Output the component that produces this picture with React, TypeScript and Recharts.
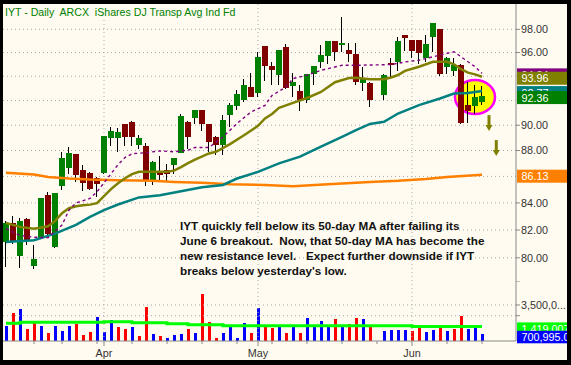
import React from 'react';
import { ComposedChart, Bar, Line, XAxis, YAxis, ReferenceLine, ReferenceDot } from 'recharts';

// IYT daily bars, index 0..68 (index 53 is the Memorial Day blank)
const opens = [81.14, 82.48, 80.14, 82.79, 79.43, 81.43, 84.58, 80.78, 85.26, 86.61, 87.72, 86.48, 86.27, 85.84, 86.27, 88.99, 88.99, 90.09, 90.25, 88.42, 88.34, 85.71, 86.35, 86.48, 86.86, 87.82, 90.27, 90.57, 91.21, 90.09, 89.07, 88.42, 90.81, 91.56, 92.02, 93.12, 92.58, 96.56, 94.86, 94.1, 96.5, 93.21, 92.77, 92.02, 94.16, 95.22, 95.73, 96.98, 96.64, 96.21, 95.87, 93.41, 93.45, null, 92.44, 95.08, 95.22, 97.51, 97.07, 97.07, 95.52, 97.36, 98.03, 94.8, 94.44, 94.94, 91.67, 91.56, 91.84];
const highs = [82.65, 83.01, 82.85, 82.85, 80.9, 84.35, 84.83, 84.75, 87.9, 88.3, 87.75, 86.86, 86.3, 85.96, 89.15, 89.82, 89.74, 90.1, 90.3, 89.2, 88.6, 87.15, 87.56, 86.92, 87.45, 90.89, 90.3, 91.25, 91.25, 90.1, 89.13, 90.86, 91.8, 92.85, 93.74, 94.29, 96.07, 96.6, 95.22, 96.25, 96.71, 94.29, 93.27, 94.2, 94.9, 96.64, 97.0, 97.0, 99.11, 96.79, 96.79, 94.8, 93.5, null, 94.15, 95.56, 97.36, 97.55, 97.1, 97.1, 97.51, 98.55, 98.05, 95.6, 95.56, 95.0, 93.49, 93.27, 93.21];
const lows = [79.36, 81.02, 79.25, 80.9, 79.18, 81.35, 81.5, 80.7, 84.95, 86.22, 85.58, 84.9, 84.95, 84.43, 86.2, 88.34, 87.87, 88.34, 88.34, 88.09, 85.26, 85.33, 85.71, 85.58, 86.17, 87.8, 88.09, 90.09, 89.55, 87.9, 87.64, 87.64, 89.87, 91.21, 91.89, 92.25, 92.3, 93.63, 93.27, 93.27, 92.95, 92.3, 91.15, 91.76, 93.27, 94.66, 95.0, 95.28, 96.02, 95.22, 93.27, 92.77, 91.48, null, 92.02, 93.87, 94.44, 96.13, 95.52, 95.0, 95.22, 96.07, 94.04, 94.16, 94.04, 90.06, 90.14, 90.94, 91.6];
const closes = [82.48, 81.21, 82.65, 81.21, 79.9, 84.33, 81.7, 84.73, 87.43, 87.82, 86.09, 85.51, 85.03, 85.45, 89.13, 89.53, 89.47, 89.07, 89.1, 89.02, 85.71, 87.12, 86.09, 86.22, 87.43, 90.73, 89.07, 91.21, 90.09, 88.68, 88.42, 90.41, 91.62, 92.52, 93.27, 92.3, 95.64, 94.86, 94.52, 96.21, 92.99, 93.54, 92.02, 94.16, 94.86, 95.79, 96.98, 96.07, 96.84, 95.87, 93.49, 93.87, 92.02, null, 94.1, 94.94, 96.98, 97.27, 96.13, 95.93, 96.71, 98.52, 94.16, 95.56, 94.94, 90.14, 91.13, 92.3, 92.36];
const volumes = [1460000, 2750000, 3110000, 1140000, 1780000, 1460000, 810000, 1460000, 970000, 1460000, 1650000, 580000, 870000, 2330000, 870000, 2040000, 1360000, 1170000, 1360000, 490000, 3300000, 680000, 490000, 290000, 580000, 680000, 1170000, 780000, 4570000, 1850000, 290000, 780000, 1550000, 290000, 1750000, 780000, 3210000, 1360000, 1260000, 1550000, 810000, 1550000, 810000, 2240000, 1360000, 1940000, 1460000, 2140000, 1550000, 1650000, 2240000, 2140000, 1360000, null, 970000, 1070000, 1070000, 1070000, 970000, 1460000, 870000, 1070000, 1460000, 970000, 1170000, 2430000, 1170000, 1260000, 700995];

// moving averages as [bar index, value]
const ma10Pts = [[0, 82.1], [2, 81.6], [4, 81.48], [6, 81.44], [8, 82.37], [9, 83.46], [10, 84.0], [12, 84.33], [13, 84.83], [15, 86.2], [16, 86.9], [17, 87.45], [18, 87.75], [20, 87.83], [22, 87.97], [24, 87.9], [26, 88.03], [27, 88.24], [29, 88.24], [31, 89.07], [33, 90.14], [35, 91.07], [37, 91.6], [38, 92.41], [40, 93.1], [41, 93.8], [43, 94.09], [45, 94.5], [47, 94.78], [48, 94.92], [50, 94.92], [55, 94.98], [57, 95.2], [59, 95.35], [61, 95.64], [63, 95.93], [64, 96.07], [65, 95.64], [67, 94.8], [68, 94.24]];
const ma20Pts = [[0, 82.52], [2, 82.23], [4, 82.1], [6, 82.27], [7, 82.65], [8, 83.24], [9, 83.6], [10, 83.75], [11, 83.83], [12, 83.87], [13, 83.98], [14, 84.5], [15, 85.03], [16, 85.48], [17, 85.86], [18, 86.17], [19, 86.35], [23, 86.36], [24, 86.44], [25, 86.71], [26, 87.02], [27, 87.29], [29, 87.77], [30, 87.9], [32, 88.5], [34, 89.2], [36, 89.95], [37, 90.54], [38, 90.9], [39, 91.4], [41, 91.8], [43, 92.2], [45, 92.7], [47, 93.5], [49, 93.85], [50, 93.87], [52, 93.76], [54, 93.76], [55, 93.9], [56, 94.1], [57, 94.45], [59, 94.8], [61, 95.22], [63, 95.22], [64, 95.0], [65, 94.6], [66, 94.3], [67, 94.16], [68, 93.96]];
const ma50Pts = [[0, 81.14], [4, 81.26], [7, 81.74], [10, 82.37], [12, 82.96], [14, 83.46], [16, 83.88], [19, 84.41], [22, 84.58], [25, 84.88], [28, 85.17], [31, 85.35], [33, 85.84], [36, 86.35], [39, 87.0], [42, 87.52], [45, 88.31], [48, 89.07], [50, 89.6], [52, 90.1], [54, 90.28], [56, 90.94], [59, 91.62], [62, 92.16], [64, 92.57], [66, 92.62], [68, 92.77]];
const ma200Pts = [[0, 86.27], [4, 86.15], [6, 85.96], [9, 85.84], [12, 85.76], [16, 85.71], [21, 85.66], [24, 85.58], [28, 85.51], [32, 85.4], [37, 85.35], [41, 85.26], [46, 85.4], [52, 85.58], [56, 85.66], [60, 85.8], [63, 85.96], [68, 86.13]];
const volMaPts = [[0, 1717000], [2, 1814000], [14, 1879000], [18, 1782000], [23, 1684000], [26, 1587000], [31, 1490000], [58, 1419007], [68, 1419007]];

const weekTicks = [4, 8, 13, 14, 18, 23, 28, 33, 36, 38, 43, 48, 53, 58, 63, 68];
const monthTicks = [14, 36, 58];
const monthLabels = ['Apr', 'May', 'Jun'];
const priceTicks = [80, 82, 84, 88, 90, 96, 98];
const priceGrid = [80, 82, 84, 86, 88, 90, 92, 94, 96, 98];
const volTicks = [2460000, 3500000, 5830000];
const volGrid = [2460000, 3500000];

const noteLines = [
  'IYT quickly fell below its 50-day MA after failing its',
  'June 6 breakout.  Now, that 50-day MA has become the',
  'new resistance level.   Expect further downside if IYT',
  "breaks below yesterday's low.",
];

const FONT = '"Liberation Sans", Arial, sans-serif';
const CREAM = '#FFFBF0';
const XD: [number, number] = [-3 / 7, 510 / 7];
const PRICE_DOMAIN: [number, number] = [78.37, 100.23];

const toMap = (pts: number[][]) => {
  const m: Record<number, number> = {};
  pts.forEach(([i, v]) => { m[i] = v; });
  return m;
};
const m10 = toMap(ma10Pts);
const m20 = toMap(ma20Pts);
const m50 = toMap(ma50Pts);
const m200 = toMap(ma200Pts);
const mVol = toMap(volMaPts);

const rows = opens.map((o, i) => {
  let prev: number | null = null;
  for (let k = i - 1; k >= 0; k--) {
    if (closes[k] != null) { prev = closes[k]; break; }
  }
  const c = closes[i];
  return {
    i,
    o, h: highs[i], l: lows[i], c,
    vol: volumes[i],
    up: prev == null || (c != null && c >= prev),
    ma10: m10[i] ?? null,
    ma20: m20[i] ?? null,
    ma50: m50[i] ?? null,
    ma200: m200[i] ?? null,
    volMa: mVol[i] ?? null,
  };
});

const last = rows[rows.length - 1];
const fmtVol = (v: number) => v.toLocaleString('en-US', { minimumFractionDigits: 2 });

function Candle(props: any) {
  const { x, y, width, height, payload } = props;
  if (!payload || payload.o == null || y == null || height == null) return null;
  const { o, h, l, c } = payload;
  const span = Math.log(h) - Math.log(l);
  const py = (v: number) => (span > 0 ? y + (height * (Math.log(h) - Math.log(v))) / span : y);
  const cx = Math.round(x + width / 2);
  const top = py(Math.max(o, c));
  const bot = py(Math.min(o, c));
  return (
    <g shapeRendering="crispEdges">
      <rect x={cx - 1} y={y} width={1} height={Math.max(height, 1)} fill="#000" />
      <rect x={cx - 3} y={top} width={6} height={Math.max(bot - top, 1)} fill={c >= o ? '#008000' : '#800000'} />
    </g>
  );
}

function VolBar(props: any) {
  const { x, y, width, height, payload } = props;
  if (!payload || payload.vol == null || height == null) return null;
  const cx = Math.round(x + width / 2);
  return <rect x={cx - 1} y={y} width={3} height={height} fill={payload.up ? '#0000FF' : '#FF0000'} shapeRendering="crispEdges" />;
}

function ValueBox(props: any) {
  const vb = props.viewBox || props;
  if (!vb || vb.y == null) return null;
  const x = vb.x + vb.width + 1;
  const y = vb.y + (props.dy ?? -5);
  return (
    <g>
      <rect x={x} y={y} width={54} height={props.h ?? 13} fill={props.fill} />
      <text x={x + 4.5} y={y + 10.5} fontSize={10.8} fill="#fff" fontFamily={FONT}>{props.text}</text>
    </g>
  );
}

function DateTick(props: any) {
  const { x, y, payload } = props;
  const k = monthTicks.indexOf(payload.value);
  return (
    <g>
      <line x1={x} x2={x} y1={y} y2={y + (k >= 0 ? 5 : 3)} stroke="#888" />
      {k >= 0 && (
        <text x={x} y={y + 16} textAnchor="middle" fontSize={10.8} fill="#333" fontFamily={FONT}>{monthLabels[k]}</text>
      )}
    </g>
  );
}

const Ellipse = (p: any) => (
  <ellipse cx={p.cx} cy={p.cy} rx={20} ry={17} fill="#FFFF00" stroke="#FF00FF" strokeWidth={2.5} />
);

const Arrow = (p: any) => (
  <g fill="#808000">
    <rect x={p.cx - 1.5} y={p.cy} width={3} height={10} />
    <polygon points={`${p.cx - 3.5},${p.cy + 10} ${p.cx + 3.5},${p.cy + 10} ${p.cx},${p.cy + 16}`} />
  </g>
);

const gridStroke = { stroke: '#A8A8A8', strokeDasharray: '1 3' };

export default function App() {
  return (
    <div style={{ position: 'absolute', left: 0, top: 0, width: 571, height: 365, background: '#000', overflow: 'hidden', fontFamily: FONT }}>
      <div style={{ position: 'absolute', left: 3, top: 4, width: 564, height: 356, background: CREAM }} />

      {/* grid + highlight circle, under the candles */}
      <div style={{ position: 'absolute', left: 0, top: 0 }}>
        <ComposedChart width={571} height={281} data={rows} margin={{ top: 4, right: 55, bottom: 0, left: 3 }}>
          <XAxis type="number" dataKey="i" domain={XD} allowDataOverflow hide />
          <YAxis type="number" scale="log" domain={PRICE_DOMAIN} allowDataOverflow hide />
          {priceGrid.map((v) => <ReferenceLine key={v} y={v} {...gridStroke} />)}
          {monthTicks.map((m) => <ReferenceLine key={m} x={m} {...gridStroke} />)}
          <ReferenceDot x={67} y={92.28} r={18} shape={Ellipse} ifOverflow="visible" />
        </ComposedChart>
      </div>

      {/* price pane */}
      <div style={{ position: 'absolute', left: 0, top: 0 }}>
        <ComposedChart width={571} height={281} data={rows} margin={{ top: 4, right: 4, bottom: 0, left: 3 }}>
          <XAxis type="number" dataKey="i" domain={XD} allowDataOverflow hide />
          <YAxis
            orientation="right"
            type="number"
            scale="log"
            domain={PRICE_DOMAIN}
            allowDataOverflow
            ticks={priceTicks}
            interval={0}
            width={51}
            tickSize={4}
            tickMargin={1}
            tickFormatter={(v: number) => v.toFixed(2)}
            tick={{ fontSize: 10.8, fill: '#333', fontFamily: FONT }}
            axisLine={{ stroke: '#888' }}
            tickLine={{ stroke: '#888' }}
          />
          <Line dataKey="ma200" stroke="#FF8000" strokeWidth={2.5} dot={false} connectNulls isAnimationActive={false} />
          <Line dataKey="ma50" stroke="#008080" strokeWidth={2.5} dot={false} connectNulls isAnimationActive={false} />
          <Line dataKey="ma20" stroke="#808000" strokeWidth={2.5} dot={false} connectNulls isAnimationActive={false} />
          <Line dataKey="ma10" stroke="#800080" strokeWidth={1.4} strokeDasharray="3 3" dot={false} connectNulls isAnimationActive={false} />
          <Bar dataKey={(r: any) => (r.o == null ? null : [r.l, r.h])} barSize={6} shape={Candle} isAnimationActive={false} />
          <ReferenceDot x={69} y={90.81} r={3} shape={Arrow} ifOverflow="visible" />
          <ReferenceDot x={70.04} y={88.82} r={3} shape={Arrow} ifOverflow="visible" />
          <ReferenceLine y={last.ma10 as number} stroke="none" label={<ValueBox fill="#800080" text={(last.ma10 as number).toFixed(2)} />} />
          <ReferenceLine y={last.ma20 as number} stroke="none" label={<ValueBox fill="#808000" text={(last.ma20 as number).toFixed(2)} />} />
          <ReferenceLine y={last.ma50 as number} stroke="none" label={<ValueBox fill="#008080" text={(last.ma50 as number).toFixed(2)} />} />
          <ReferenceLine y={last.c as number} stroke="none" label={<ValueBox fill="#008000" text={(last.c as number).toFixed(2)} />} />
          <ReferenceLine y={last.ma200 as number} stroke="none" label={<ValueBox fill="#FF8000" text={(last.ma200 as number).toFixed(2)} />} />
        </ComposedChart>
      </div>

      {/* volume pane */}
      <div style={{ position: 'absolute', left: 0, top: 281 }}>
        <ComposedChart width={571} height={79} data={rows} margin={{ top: 0, right: 4, bottom: 0, left: 3 }}>
          <XAxis
            type="number"
            dataKey="i"
            domain={XD}
            allowDataOverflow
            ticks={weekTicks}
            interval={0}
            height={19}
            tickSize={0}
            tickMargin={0}
            tickLine={false}
            tick={<DateTick />}
            axisLine={{ stroke: '#888' }}
          />
          <YAxis
            orientation="right"
            type="number"
            domain={[0, 5830000]}
            allowDataOverflow
            ticks={volTicks}
            interval={0}
            width={51}
            tickSize={4}
            tickMargin={1}
            tickFormatter={(v: number) => (v === 3500000 ? '3,500,0...' : '')}
            tick={{ fontSize: 10.8, fill: '#333', fontFamily: FONT }}
            axisLine={{ stroke: '#888' }}
            tickLine={{ stroke: '#888' }}
          />
          {volGrid.map((v) => <ReferenceLine key={v} y={v} {...gridStroke} />)}
          {monthTicks.map((m) => <ReferenceLine key={m} x={m} {...gridStroke} />)}
          <Bar dataKey="vol" barSize={3} shape={VolBar} isAnimationActive={false} />
          <Line dataKey="volMa" type="stepAfter" stroke="#00FF00" strokeWidth={3} dot={false} connectNulls isAnimationActive={false} />
          <ReferenceLine y={last.volMa as number} stroke="none" label={<ValueBox fill="#00FF00" dy={-4} h={12.5} text={fmtVol(last.volMa as number)} />} />
          <ReferenceLine y={last.vol as number} stroke="none" label={<ValueBox fill="#0000FF" dy={-3} h={12.5} text={fmtVol(last.vol as number)} />} />
        </ComposedChart>
      </div>

      {/* title, note and frame */}
      <svg width={571} height={365} style={{ position: 'absolute', left: 0, top: 0, pointerEvents: 'none' }}>
        <rect x={3} y={4} width={242} height={14} fill={CREAM} />
        <text x={5} y={16} fontSize={10.6} fill="#008000" fontFamily={FONT} xmlSpace="preserve" style={{ whiteSpace: 'pre' }}>
          {'IYT - Daily  ARCX  iShares DJ Transp Avg Ind Fd'}
        </text>
        {noteLines.map((t, k) => (
          <text
            key={k}
            x={180}
            y={230 + 15 * k}
            fontSize={11.7}
            fontWeight="bold"
            fill="#111"
            fontFamily={FONT}
            xmlSpace="preserve"
            style={{ whiteSpace: 'pre' }}
          >
            {t}
          </text>
        ))}
        <rect x={0} y={0} width={571} height={4} fill="#000" />
        <rect x={0} y={0} width={3} height={365} fill="#000" />
        <rect x={567} y={0} width={4} height={365} fill="#000" />
        <rect x={0} y={360} width={571} height={5} fill="#000" />
      </svg>
    </div>
  );
}
